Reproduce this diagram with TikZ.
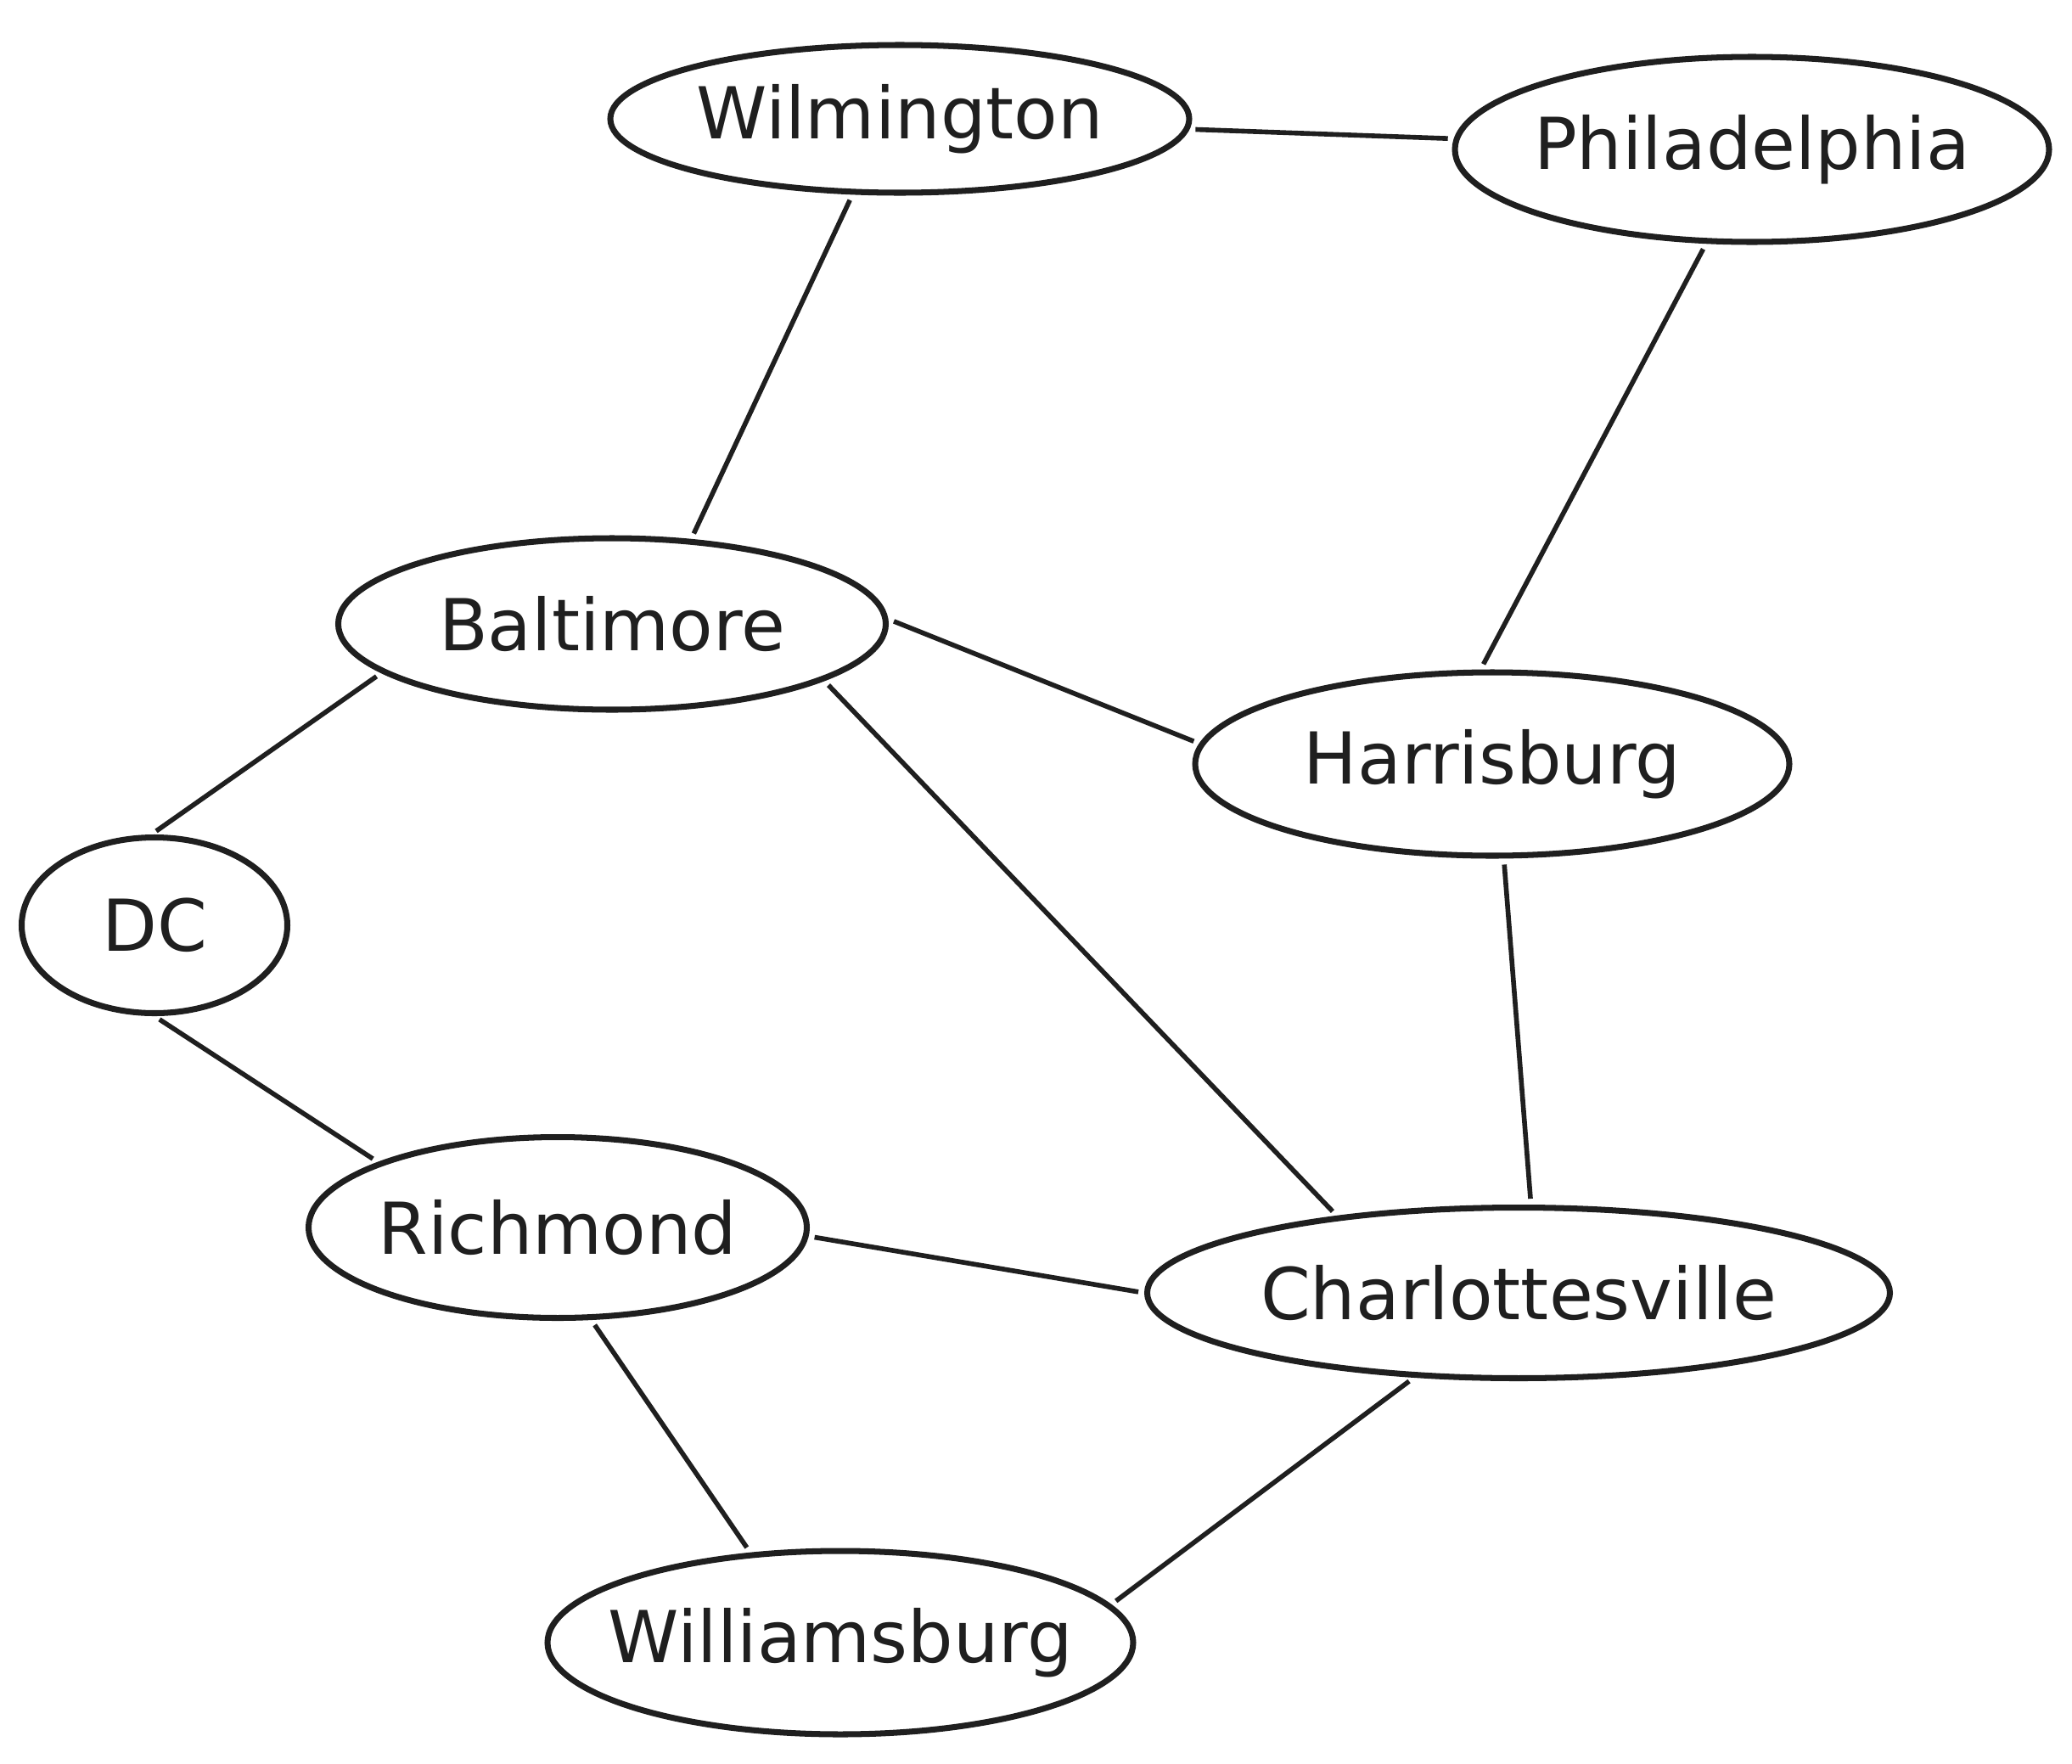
\documentclass[tikz,border=0pt]{standalone}
\usepackage{fontspec}
\setmainfont{DejaVu Sans}
\usetikzlibrary{shapes.geometric}

\begin{document}
\begin{tikzpicture}[
    city/.style={ellipse, draw=black!88, line width=2pt, inner xsep=-2cm, inner ysep=-0.6cm, font=\fontsize{24}{28}\selectfont, text=black!88},
    road/.style={draw=black!88, line width=1.6pt, shorten <=2pt, shorten >=2pt}
]
\useasboundingbox (0, 0) rectangle (24.41, -20.78);

% Cities
\node[city, minimum width=6.82cm, minimum height=1.74cm] (wil) at (10.60, -1.40) {Wilmington};
\node[city, minimum width=7.00cm, minimum height=2.18cm] (phi) at (20.64, -1.76) {Philadelphia};
\node[city, minimum width=6.45cm, minimum height=2.02cm] (bal) at (7.21, -7.35) {Baltimore};
\node[city, minimum width=7.00cm, minimum height=2.16cm] (har) at (17.58, -9.00) {Harrisburg};
\node[city, minimum width=3.13cm, minimum height=2.07cm] (dc) at (1.82, -10.90) {DC};
\node[city, minimum width=5.87cm, minimum height=2.13cm] (ric) at (6.57, -14.46) {Richmond};
\node[city, minimum width=8.75cm, minimum height=2.01cm] (cha) at (17.89, -15.23) {Charlottesville};
\node[city, minimum width=6.90cm, minimum height=2.16cm] (wbg) at (9.90, -19.35) {Williamsburg};

% Roads
\draw[road] (wil) -- (phi);
\draw[road] (wil.-122) -- (bal.47);
\draw[road] (phi.-116) -- (har.97);
\draw[road] (bal.1) -- (har.176);
\draw[road] (bal.192) -- (dc.92);
\draw[road] (bal.-15) -- (cha.157);
\draw[road] (dc.-90) -- (ric.160);
\draw[road] (har.-83) -- (cha.82);
\draw[road] (ric.-2) -- (cha.180);
\draw[road] (ric.-70) -- (wbg.135);
\draw[road] (cha.-141) -- (wbg.8);

\end{tikzpicture}
\end{document}
